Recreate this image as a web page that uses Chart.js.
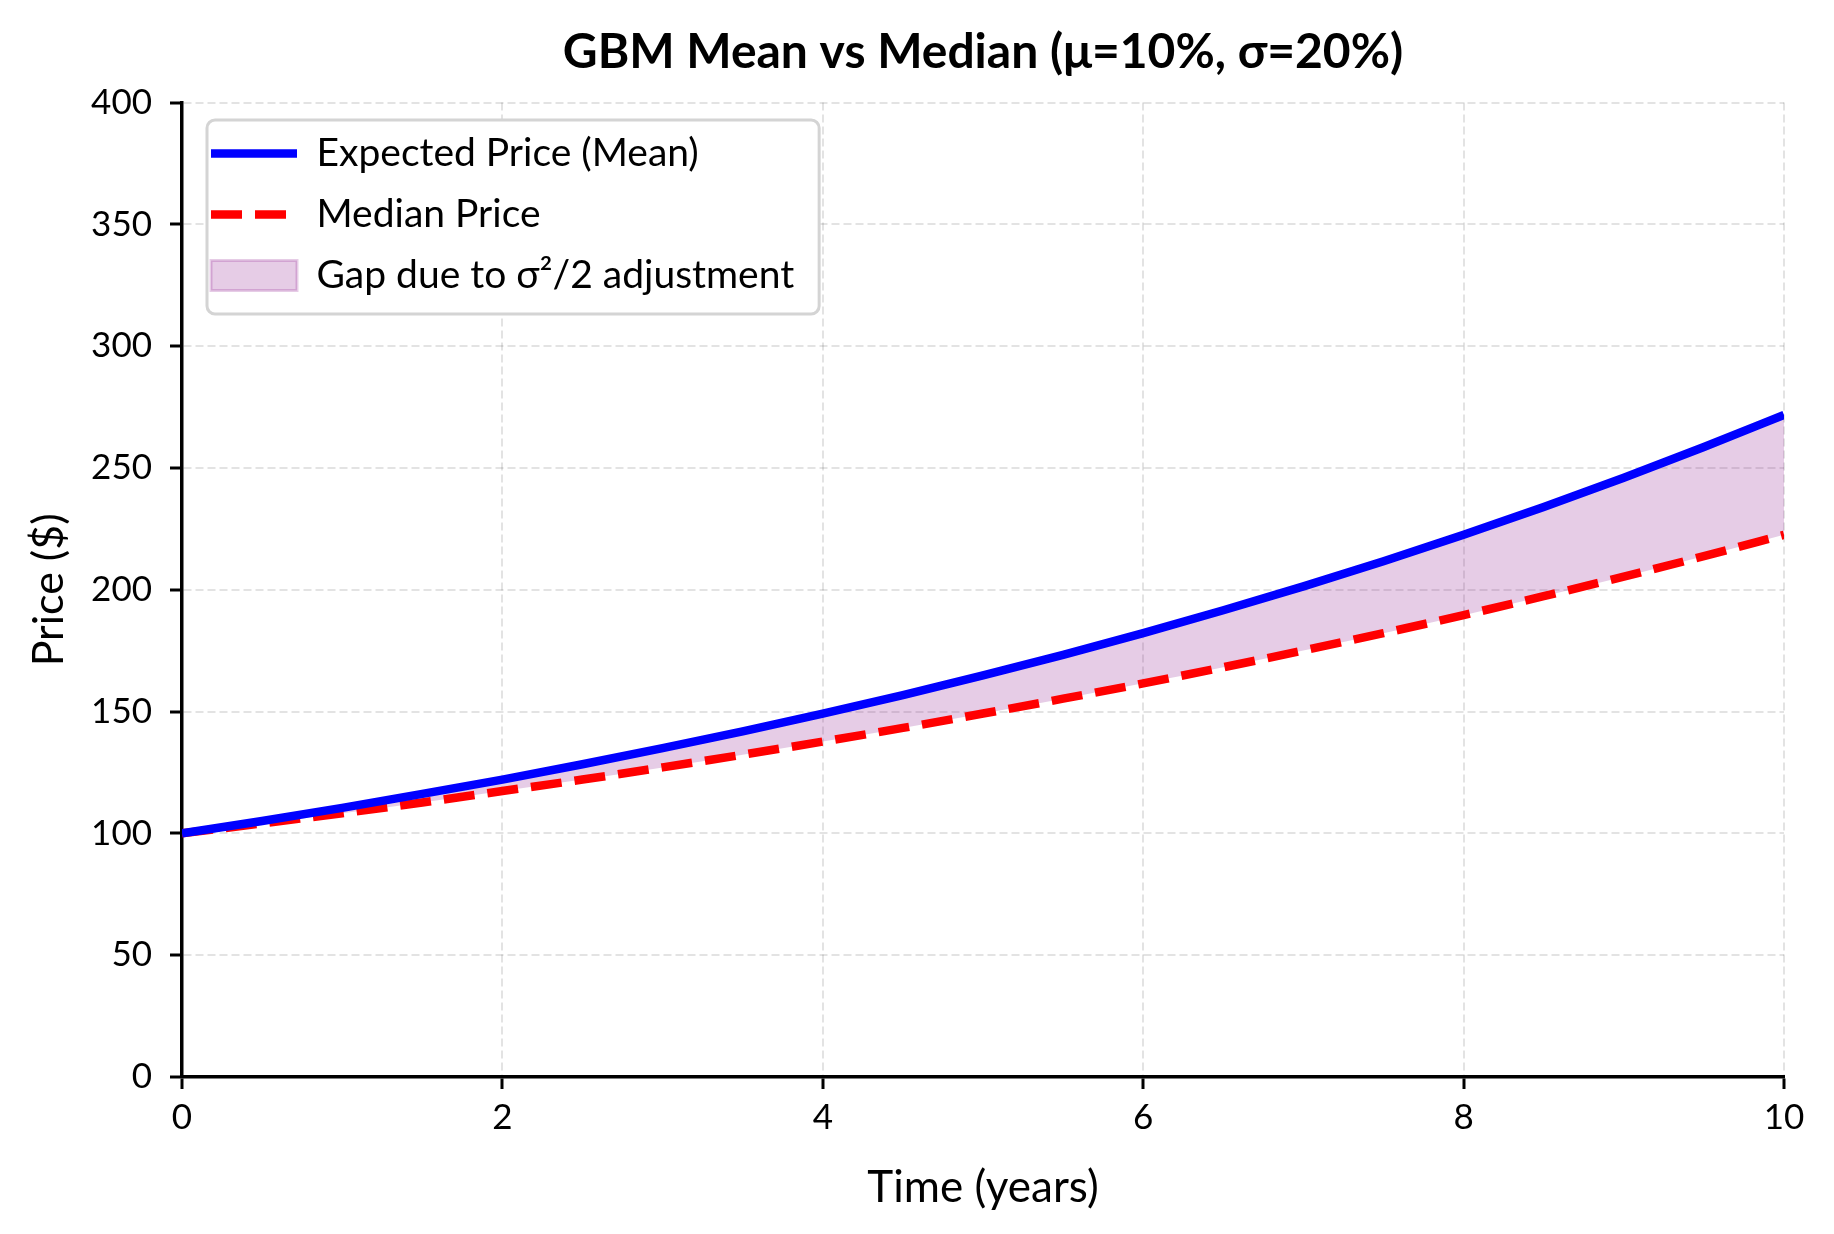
<!DOCTYPE html>
<html>
<head>
<meta charset="utf-8">
<title>GBM Mean vs Median</title>
<script src="https://cdn.jsdelivr.net/npm/chart.js@4.4.1/dist/chart.umd.min.js"></script>
<style>
  html, body { margin: 0; padding: 0; background: #fff; overflow: hidden; }
  canvas { display: block; }
</style>
</head>
<body>
<canvas id="gbmChart" width="1834" height="1234"></canvas>
<script>
// Time in years
const years = [0, 0.5, 1, 1.5, 2, 2.5, 3, 3.5, 4, 4.5, 5, 5.5, 6, 6.5, 7, 7.5, 8, 8.5, 9, 9.5, 10];

// Expected price (mean)
const meanPrice = [100, 105.1, 110.5, 116.2, 122.1, 128.4, 135.0, 141.9, 149.2, 156.8, 164.9,
  173.3, 182.2, 191.6, 201.4, 211.7, 222.6, 234.0, 246.0, 258.6, 271.8];

// Median price
const medianPrice = [100, 104.1, 108.3, 112.7, 117.4, 122.1, 127.1, 132.3, 137.7, 143.3, 149.2,
  155.3, 161.6, 168.2, 175.1, 182.2, 189.6, 197.4, 205.4, 213.8, 222.6];

const seriesLabels = ["Expected Price (Mean)", "Median Price", "Gap due to σ²/2 adjustment"];

const FONT = "Lato, 'Noto Sans', 'DejaVu Sans', sans-serif";
Chart.defaults.font.family = FONT;
Chart.defaults.color = "#000";

// Pair up x/y points for the linear x axis
function toPoints(values) {
  return years.map((t, i) => ({ x: t, y: values[i] }));
}

// Legend sits in the upper left of the plot, inside a white rounded frame
const LEGEND_LEFT = 189;
const LEGEND_TOP = 112;

const legendFrame = {
  id: "legendFrame",
  afterLayout(chart) {
    const legend = chart.legend;
    if (!legend) return;
    const dx = LEGEND_LEFT - legend.left;
    const dy = LEGEND_TOP - legend.top;
    legend.left += dx;
    legend.right += dx;
    legend.top += dy;
    legend.bottom += dy;
    legend.legendHitBoxes.forEach((b) => {
      b.left += dx;
      b.top += dy;
    });
  },
  beforeDatasetsDraw(chart) {
    const legend = chart.legend;
    if (!legend || !legend.legendHitBoxes || !legend.legendHitBoxes.length) return;
    const boxes = legend.legendHitBoxes;
    const last = boxes[boxes.length - 1];
    const left = boxes[0].left - 11;
    const top = boxes[0].top - 14;
    const right = Math.max(...boxes.map((b) => b.left + b.width)) + 18;
    const bottom = last.top + last.height + 19;
    const ctx = chart.ctx;
    ctx.save();
    ctx.beginPath();
    ctx.roundRect(left, top, right - left, bottom - top, 8);
    ctx.fillStyle = "#fff";
    ctx.fill();
    ctx.lineWidth = 3;
    ctx.strokeStyle = "#d4d4d4";
    ctx.stroke();
    ctx.restore();
    // put the legend back on top of the frame
    legend.draw();
  },
};

const gridColor = "rgba(0, 0, 0, 0.11)";

new Chart(document.getElementById("gbmChart"), {
  type: "line",
  data: {
    datasets: [
      {
        label: seriesLabels[0],
        data: toPoints(meanPrice),
        borderColor: "#0000ff",
        backgroundColor: "#0000ff",
        borderWidth: 8.5,
        pointRadius: 0,
        cubicInterpolationMode: "monotone",
        fill: false,
        order: 0,
      },
      {
        label: seriesLabels[1],
        data: toPoints(medianPrice),
        borderColor: "#ff0000",
        backgroundColor: "#ff0000",
        borderWidth: 8.5,
        borderDash: [31, 13],
        pointRadius: 0,
        cubicInterpolationMode: "monotone",
        fill: false,
        order: 1,
      },
      {
        label: seriesLabels[2],
        data: toPoints(meanPrice),
        borderColor: "rgba(128, 0, 128, 0.2)",
        backgroundColor: "rgba(128, 0, 128, 0.2)",
        borderWidth: 2,
        pointRadius: 0,
        cubicInterpolationMode: "monotone",
        fill: { target: 1 },
        order: 2,
      },
    ],
  },
  options: {
    responsive: false,
    devicePixelRatio: 1,
    animation: false,
    layout: {
      padding: { left: 0, right: 50, top: 0, bottom: 0 },
    },
    scales: {
      x: {
        type: "linear",
        min: 0,
        max: 10,
        ticks: {
          stepSize: 2,
          padding: 8,
          font: { size: 35 },
          color: "#000",
        },
        grid: {
          color: gridColor,
          lineWidth: 2,
          tickColor: "#000",
          tickLength: 12,
          tickWidth: 3,
        },
        border: { display: true, color: "#000", width: 3.5, dash: [8, 4] },
        title: {
          display: true,
          text: "Time (years)",
          font: { size: 44 },
          padding: { top: 0, bottom: 20 },
        },
        afterFit: (scale) => {
          scale.height = 157;
        },
      },
      y: {
        min: 0,
        max: 400,
        ticks: {
          stepSize: 50,
          padding: 18,
          font: { size: 35 },
          color: "#000",
        },
        grid: {
          color: gridColor,
          lineWidth: 2,
          tickColor: "#000",
          tickLength: 12,
          tickWidth: 3,
        },
        border: { display: true, color: "#000", width: 3.5, dash: [8, 4] },
        title: {
          display: true,
          text: "Price ($)",
          font: { size: 43 },
          padding: { top: 23, bottom: 0 },
        },
        afterFit: (scale) => {
          scale.width = 182;
        },
      },
    },
    plugins: {
      title: {
        display: true,
        text: "GBM Mean vs Median (μ=10%, σ=20%)",
        fullSize: false,
        font: { size: 48, weight: "bold" },
        color: "#000",
        padding: { top: 24, bottom: 21 },
      },
      legend: {
        position: "chartArea",
        align: "start",
        labels: {
          usePointStyle: true,
          pointStyleWidth: 86,
          boxHeight: 30,
          padding: 22,
          font: { size: 39 },
          color: "#000",
          generateLabels: (chart) =>
            chart.data.datasets.map((ds, i) => ({
              text: ds.label,
              fillStyle: ds.backgroundColor,
              strokeStyle: ds.borderColor,
              lineWidth: i === 2 ? 3 : ds.borderWidth,
              lineDash: ds.borderDash || [],
              pointStyle: i === 2 ? "rect" : "line",
              datasetIndex: i,
              hidden: false,
            })),
        },
      },
      tooltip: { enabled: false },
    },
  },
  plugins: [legendFrame],
});
</script>
</body>
</html>
